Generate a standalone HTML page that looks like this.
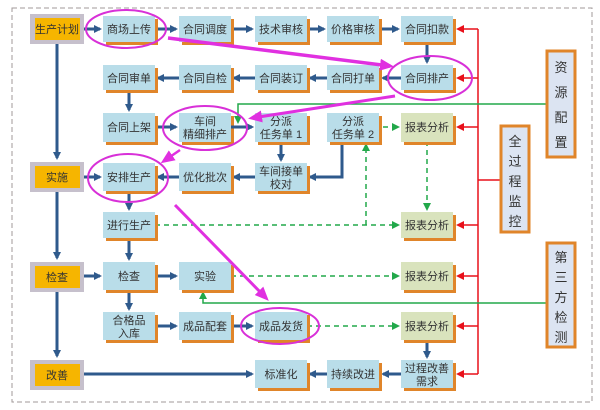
<!DOCTYPE html>
<html><head><meta charset="utf-8"><style>
html,body{margin:0;padding:0;background:#fff;}
svg{display:block;}
text{font-family:"Liberation Sans","Noto Sans CJK SC","WenQuanYi Zen Hei",sans-serif;font-size:11px;fill:#333;text-anchor:middle;}
</style></head><body>
<svg width="600" height="410" viewBox="0 0 600 410" xmlns="http://www.w3.org/2000/svg">
<defs>
<marker id="ab" markerWidth="8" markerHeight="8" refX="6" refY="4" orient="auto" markerUnits="userSpaceOnUse"><path d="M0,0 L8,4 L0,8 z" fill="#2f5a8c"/></marker>
<marker id="ar" markerWidth="8" markerHeight="8" refX="6" refY="4" orient="auto" markerUnits="userSpaceOnUse"><path d="M0,0 L8,4 L0,8 z" fill="#e8101a"/></marker>
<marker id="ag" markerWidth="8" markerHeight="8" refX="6" refY="4" orient="auto" markerUnits="userSpaceOnUse"><path d="M0,0 L8,4 L0,8 z" fill="#22a84a"/></marker>
<marker id="am" markerWidth="14" markerHeight="12" refX="10" refY="6" orient="auto" markerUnits="userSpaceOnUse"><path d="M0,0 L14,6 L0,12 z" fill="#e030e0"/></marker>
</defs>
<rect x="12" y="8" width="580" height="394" fill="none" stroke="#a09898" stroke-dasharray="5,3"/>

<!-- left column -->
<g stroke="#2f5a8c" stroke-width="3" fill="none" marker-end="url(#ab)">
<line x1="57" y1="44" x2="57" y2="158"/>
<line x1="57" y1="192" x2="57" y2="258"/>
<line x1="57" y1="292" x2="57" y2="356"/>
</g>
<g>
<rect x="30" y="14" width="54" height="30" fill="#c6c0cc"/><rect x="35" y="18" width="45" height="22" fill="#f6b500"/><text x="57" y="33">生产计划</text>
<rect x="30" y="162" width="54" height="30" fill="#c6c0cc"/><rect x="35" y="166" width="45" height="22" fill="#f6b500"/><text x="57" y="181">实施</text>
<rect x="30" y="262" width="54" height="30" fill="#c6c0cc"/><rect x="35" y="266" width="45" height="22" fill="#f6b500"/><text x="57" y="281">检查</text>
<rect x="30" y="360" width="54" height="30" fill="#c6c0cc"/><rect x="35" y="364" width="45" height="22" fill="#f6b500"/><text x="57" y="379">改善</text>
</g>

<!-- red monitor lines -->
<g stroke="#e8101a" stroke-width="1.5" fill="none">
<line x1="478" y1="29" x2="478" y2="374"/>
<line x1="478" y1="180" x2="501" y2="180"/>
</g>
<g stroke="#e8101a" stroke-width="1.5" marker-end="url(#ar)">
<line x1="478" y1="29" x2="458" y2="29"/>
<line x1="478" y1="78" x2="458" y2="78"/>
<line x1="478" y1="127" x2="458" y2="127"/>
<line x1="478" y1="225" x2="458" y2="225"/>
<line x1="478" y1="276" x2="458" y2="276"/>
<line x1="478" y1="326" x2="458" y2="326"/>
<line x1="478" y1="374" x2="458" y2="374"/>
</g>

<!-- green solid lines -->
<g stroke="#22a84a" stroke-width="1.5" fill="none">
<polyline points="547,104 238,104 238,122" marker-end="url(#ag)"/>
<polyline points="547,303 203,303 203,293" marker-end="url(#ag)"/>
</g>
<!-- green dashed -->
<g stroke="#22a84a" stroke-width="1.5" fill="none" stroke-dasharray="5,4" marker-end="url(#ag)">
<line x1="383" y1="127" x2="398" y2="127"/>
<line x1="155" y1="225" x2="398" y2="225"/>
<line x1="231" y1="276" x2="398" y2="276"/>
<line x1="307" y1="326" x2="398" y2="326"/>
<polyline points="366,225 366,145"/>
<line x1="427" y1="141" x2="427" y2="209"/>
</g>

<!-- blue arrows -->
<g stroke="#2f5a8c" stroke-width="3" fill="none" marker-end="url(#ab)">
<line x1="84" y1="29" x2="100" y2="29"/>
<line x1="155" y1="29" x2="176" y2="29"/>
<line x1="231" y1="29" x2="252" y2="29"/>
<line x1="307" y1="29" x2="324" y2="29"/>
<line x1="380" y1="29" x2="398" y2="29"/>
<line x1="427" y1="42" x2="427" y2="62"/>
<line x1="401" y1="78" x2="383" y2="78"/>
<line x1="327" y1="78" x2="310" y2="78"/>
<line x1="255" y1="78" x2="234" y2="78"/>
<line x1="179" y1="78" x2="158" y2="78"/>
<line x1="129" y1="90" x2="129" y2="110"/>
<line x1="155" y1="127" x2="176" y2="127"/>
<line x1="231" y1="127" x2="252" y2="127"/>
<line x1="281" y1="142" x2="281" y2="160"/>
<polyline points="342,142 342,177 310,177"/>
<line x1="255" y1="177" x2="234" y2="177"/>
<line x1="179" y1="177" x2="158" y2="177"/>
<line x1="84" y1="177" x2="100" y2="177"/>
<line x1="129" y1="191" x2="129" y2="209"/>
<line x1="129" y1="238" x2="129" y2="259"/>
<line x1="84" y1="276" x2="100" y2="276"/>
<line x1="155" y1="276" x2="176" y2="276"/>
<line x1="129" y1="290" x2="129" y2="309"/>
<line x1="155" y1="326" x2="176" y2="326"/>
<line x1="231" y1="326" x2="252" y2="326"/>
<line x1="427" y1="340" x2="427" y2="357"/>
<line x1="401" y1="374" x2="383" y2="374"/>
<line x1="327" y1="374" x2="310" y2="374"/>
<line x1="84" y1="374" x2="252" y2="374"/>
</g>

<!-- boxes -->
<g id="boxes">
<g fill="#e0852a">
<rect x="106" y="19" width="52" height="26"/><rect x="182" y="19" width="52" height="26"/><rect x="258" y="19" width="52" height="26"/><rect x="330" y="19" width="52" height="26"/><rect x="404" y="19" width="52" height="26"/>
<rect x="106" y="68" width="52" height="25"/><rect x="182" y="68" width="52" height="25"/><rect x="258" y="68" width="52" height="25"/><rect x="330" y="68" width="52" height="25"/><rect x="404" y="68" width="52" height="25"/>
<rect x="106" y="116" width="52" height="29"/><rect x="182" y="116" width="52" height="29"/><rect x="258" y="116" width="52" height="29"/><rect x="330" y="116" width="52" height="29"/><rect x="404" y="116" width="52" height="29"/>
<rect x="106" y="166" width="52" height="28"/><rect x="182" y="166" width="52" height="28"/><rect x="258" y="166" width="52" height="28"/>
<rect x="106" y="215" width="52" height="26"/><rect x="404" y="215" width="52" height="26"/>
<rect x="106" y="265" width="52" height="28"/><rect x="182" y="265" width="52" height="28"/><rect x="404" y="265" width="52" height="28"/>
<rect x="106" y="315" width="52" height="28"/><rect x="182" y="315" width="52" height="28"/><rect x="258" y="315" width="52" height="28"/><rect x="404" y="315" width="52" height="28"/>
<rect x="258" y="363" width="52" height="28"/><rect x="330" y="363" width="52" height="28"/><rect x="404" y="363" width="52" height="28"/>
</g>
<g fill="#b9dde9">
<rect x="103" y="16" width="52" height="26"/><rect x="179" y="16" width="52" height="26"/><rect x="255" y="16" width="52" height="26"/><rect x="327" y="16" width="52" height="26"/><rect x="401" y="16" width="52" height="26"/>
<rect x="103" y="65" width="52" height="25"/><rect x="179" y="65" width="52" height="25"/><rect x="255" y="65" width="52" height="25"/><rect x="327" y="65" width="52" height="25"/><rect x="401" y="65" width="52" height="25"/>
<rect x="103" y="113" width="52" height="29"/><rect x="179" y="113" width="52" height="29"/><rect x="255" y="113" width="52" height="29"/><rect x="327" y="113" width="52" height="29"/>
<rect x="103" y="163" width="52" height="28"/><rect x="179" y="163" width="52" height="28"/><rect x="255" y="163" width="52" height="28"/>
<rect x="103" y="212" width="52" height="26"/>
<rect x="103" y="262" width="52" height="28"/><rect x="179" y="262" width="52" height="28"/>
<rect x="103" y="312" width="52" height="28"/><rect x="179" y="312" width="52" height="28"/><rect x="255" y="312" width="52" height="28"/>
<rect x="255" y="360" width="52" height="28"/><rect x="327" y="360" width="52" height="28"/><rect x="401" y="360" width="52" height="28"/>
</g>
<g fill="#d9e3bd">
<rect x="401" y="113" width="52" height="29"/><rect x="401" y="212" width="52" height="26"/><rect x="401" y="262" width="52" height="28"/><rect x="401" y="312" width="52" height="28"/>
</g>
</g>

<!-- re-draw arrows that cross boxes (small connectors) -->
<g stroke="#2f5a8c" stroke-width="3" fill="none" marker-end="url(#ab)">
<line x1="231" y1="127" x2="252" y2="127"/>
</g>

<!-- box text -->
<g>
<text x="129" y="33">商场上传</text><text x="205" y="33">合同调度</text><text x="281" y="33">技术审核</text><text x="353" y="33">价格审核</text><text x="427" y="33">合同扣款</text>
<text x="129" y="82">合同审单</text><text x="205" y="82">合同自检</text><text x="281" y="82">合同装订</text><text x="353" y="82">合同打单</text><text x="427" y="82">合同排产</text>
<text x="129" y="131">合同上架</text>
<text x="205" y="125">车间</text><text x="205" y="138">精细排产</text>
<text x="281" y="125">分派</text><text x="281" y="138">任务单 1</text>
<text x="353" y="125">分派</text><text x="353" y="138">任务单 2</text>
<text x="427" y="131">报表分析</text>
<text x="129" y="181">安排生产</text><text x="205" y="181">优化批次</text>
<text x="281" y="175">车间接单</text><text x="281" y="188">校对</text>
<text x="129" y="229">进行生产</text><text x="427" y="229">报表分析</text>
<text x="129" y="280">检查</text><text x="205" y="280">实验</text><text x="427" y="280">报表分析</text>
<text x="129" y="324">合格品</text><text x="129" y="337">入库</text>
<text x="205" y="330">成品配套</text><text x="281" y="330">成品发货</text><text x="427" y="330">报表分析</text>
<text x="281" y="378">标准化</text><text x="353" y="378">持续改进</text>
<text x="427" y="372">过程改善</text><text x="427" y="385">需求</text>
</g>

<!-- vertical side boxes -->
<g>
<rect x="547" y="51" width="28" height="106" fill="#dce4f2" stroke="#e0852a" stroke-width="3"/>
<text x="561" y="72" style="font-size:13px">资</text><text x="561" y="97" style="font-size:13px">源</text><text x="561" y="122" style="font-size:13px">配</text><text x="561" y="147" style="font-size:13px">置</text>
<rect x="501" y="126" width="28" height="106" fill="#dce4f2" stroke="#e0852a" stroke-width="3"/>
<text x="515" y="146" style="font-size:13px">全</text><text x="515" y="166" style="font-size:13px">过</text><text x="515" y="186" style="font-size:13px">程</text><text x="515" y="206" style="font-size:13px">监</text><text x="515" y="226" style="font-size:13px">控</text>
<rect x="547" y="243" width="28" height="104" fill="#dce4f2" stroke="#e0852a" stroke-width="3"/>
<text x="561" y="262" style="font-size:13px">第</text><text x="561" y="282" style="font-size:13px">三</text><text x="561" y="302" style="font-size:13px">方</text><text x="561" y="322" style="font-size:13px">检</text><text x="561" y="342" style="font-size:13px">测</text>
</g>

<!-- magenta ellipses & arrows -->
<g stroke="#d830d8" stroke-width="2" fill="none">
<ellipse cx="126" cy="29" rx="40" ry="19"/>
<ellipse cx="430" cy="78" rx="42" ry="22"/>
<ellipse cx="205" cy="128" rx="42" ry="22"/>
<ellipse cx="128" cy="178" rx="40" ry="24"/>
<ellipse cx="280" cy="326" rx="39" ry="18"/>
</g>
<g stroke="#e030e0" fill="none" marker-end="url(#am)">
<line x1="168" y1="38" x2="390" y2="66" stroke-width="3.5"/>
<line x1="395" y1="96" x2="252" y2="118" stroke-width="3"/>
<line x1="180" y1="150" x2="164" y2="161" stroke-width="2.5"/>
<line x1="175" y1="205" x2="266" y2="298" stroke-width="3"/>
</g>
</svg>
</body></html>
